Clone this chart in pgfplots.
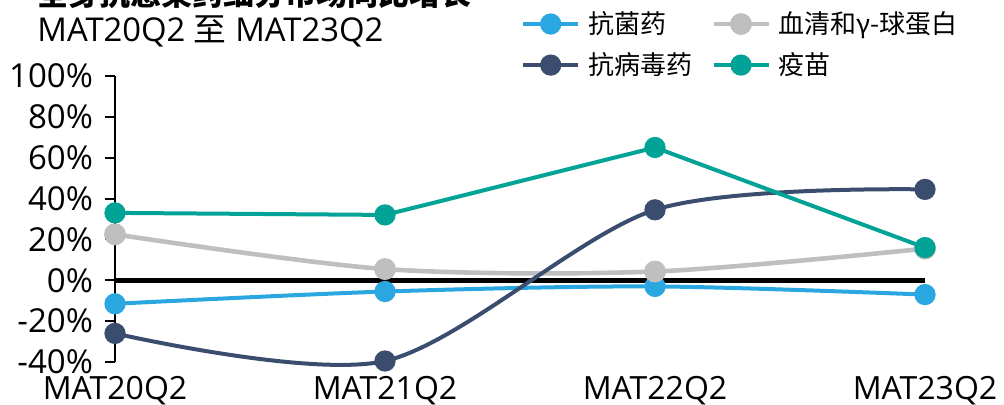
\documentclass[border=0pt]{standalone}
\usepackage{fontspec}
\setmainfont{Open Sans}
\newfontfamily\cjk{Noto Sans CJK SC}
\usepackage{pgfplots}
\pgfplotsset{compat=1.18}

\definecolor{cblue}{HTML}{2AA7E1}
\definecolor{cgray}{HTML}{BFBFBF}
\definecolor{cnavy}{HTML}{3A4D6E}
\definecolor{cteal}{HTML}{00A396}

\begin{document}
\begin{tikzpicture}
\begin{axis}[
  at={(57.5pt,21pt)}, anchor=south west,
  scale only axis, width=405pt, height=143pt,
  xmin=0, xmax=3, ymin=-40, ymax=100,
  axis x line*=bottom, axis y line*=left,
  x axis line style={draw=none},
  y axis line style={line width=1pt},
  xtick={0,1,2,3},
  xticklabels={MAT20Q2,MAT21Q2,MAT22Q2,MAT23Q2},
  ytick={-40,-20,...,100},
  yticklabels={-40\%,-20\%,0\%,20\%,40\%,60\%,80\%,100\%},
  tick align=outside, major tick length=5pt,
  xtick style={draw=none},
  ytick style={line width=1pt, black},
  x tick label style={font=\fontsize{16}{19}\selectfont, yshift=1.5pt},
  y tick label style={font=\fontsize{16.5}{19}\selectfont, xshift=-2.5pt},
  clip=false,
  legend columns=2,
  legend style={at={(axis description cs:0.501,1.241)}, anchor=north west,
    draw=none, fill=none, inner sep=0pt,
    font=\cjk\fontsize{13}{15}\selectfont, row sep=4pt,
    /tikz/every odd column/.append style={column sep=2pt},
    /tikz/every even column/.append style={column sep=7.5pt}},
  legend cell align=left,
  legend image code/.code={\draw[mark repeat=2,mark phase=2] plot coordinates {(0pt,0pt)(13.75pt,0pt)(27.5pt,0pt)};},
  every axis plot/.append style={mark=*, mark size=4.3pt, line width=2pt},
]
\addplot[black, line width=2.5pt, mark=none, forget plot] coordinates {(0,0) (3,0)};
\addplot[cblue, smooth, mark options={fill=cblue}] coordinates {(0,-11.5) (1,-5.5) (2,-3) (3,-7)};
\addlegendentry{抗菌药}
\addplot[cgray, smooth, line width=2.3pt, mark options={fill=cgray}] coordinates {(0,22.5) (1,5.5) (2,4.3) (3,15.5)};
\addlegendentry{血清和γ-球蛋白}
\addplot[cnavy, smooth, mark options={fill=cnavy}] coordinates {(0,-26) (1,-39.5) (2,34.5) (3,44.5)};
\addlegendentry{抗病毒药}
\addplot[cteal, mark options={fill=cteal}] coordinates {(0,33) (1,32) (2,65) (3,16)};
\addlegendentry{疫苗}
\end{axis}
\node[anchor=west, inner sep=0pt, font=\cjk\bfseries\fontsize{15.5}{19}\selectfont] at (18.5pt,205pt) {全身抗感染药细分市场同比增长};
\node[anchor=west, inner sep=0pt, font=\fontsize{16.4}{20}\selectfont] at (18.5pt,186.5pt) {MAT20Q2 {\cjk 至} MAT23Q2};
\pgfresetboundingbox
\path[use as bounding box] (0pt,0pt) rectangle (502pt,202pt);
\end{tikzpicture}
\end{document}
